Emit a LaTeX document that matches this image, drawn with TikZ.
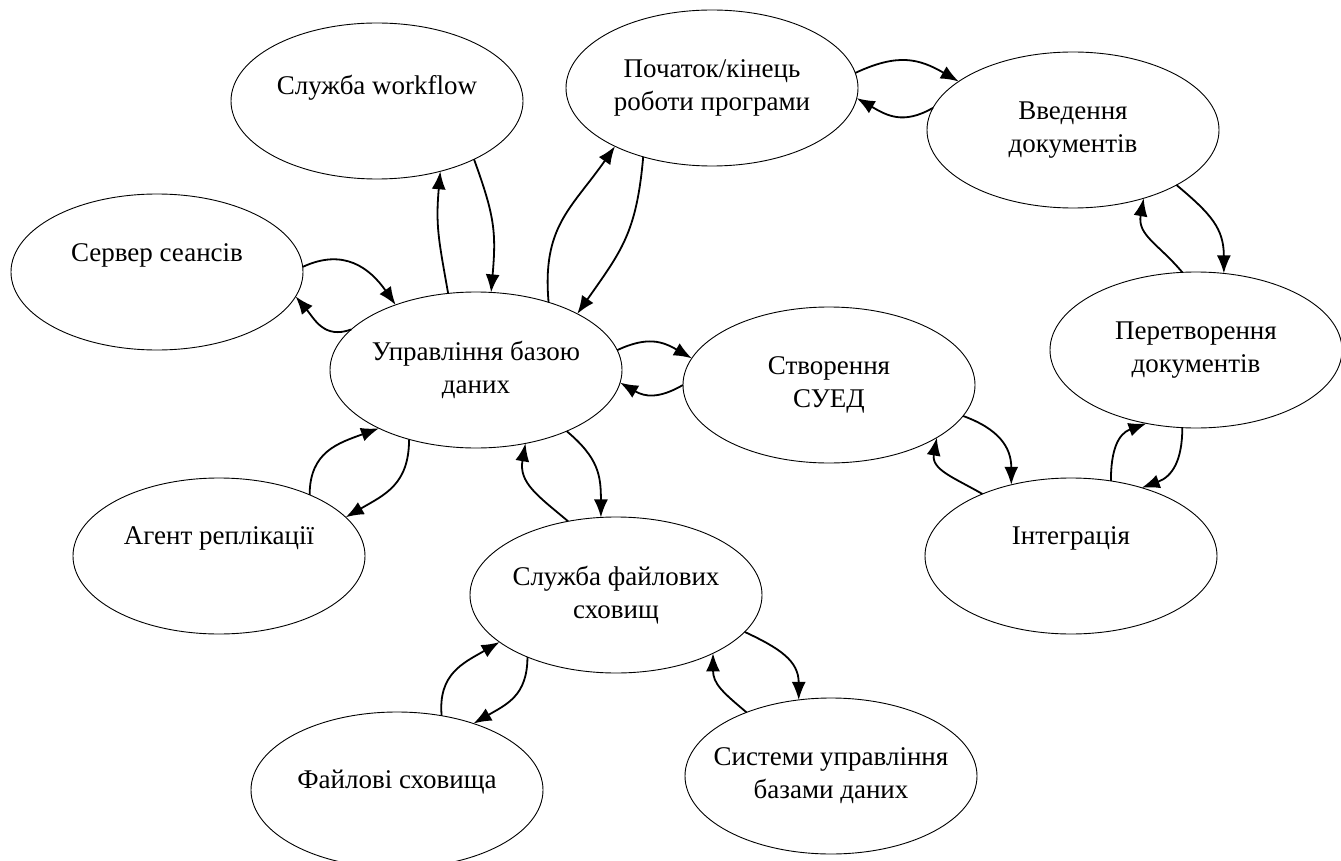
\documentclass[tikz,border=0pt]{standalone}
\usepackage{fontspec}
\setmainfont{Liberation Serif}
\usetikzlibrary{shapes.geometric,arrows.meta}
\begin{document}
\begin{tikzpicture}[x=1pt,y=1pt,
  blob/.style={ellipse, draw, line width=0.9pt, minimum width=292pt,
    minimum height=156pt, inner sep=0pt, outer sep=0pt},
  lbl/.style={align=center, inner sep=0pt, font=\fontsize{27}{33}\selectfont},
  link/.style={line width=1.8pt, looseness=1.15,
    -{Latex[length=18pt,width=14pt]}}]
\useasboundingbox (0,0) rectangle (1341,-861);

% ellipses
\node[blob] (wf)  at (377,-101) {};
\node[blob] (pk)  at (712,-88)  {};
\node[blob] (vd)  at (1073,-130) {};
\node[blob] (ss)  at (157,-272) {};
\node[blob] (upr) at (476,-370) {};
\node[blob] (stv) at (829,-385) {};
\node[blob] (prt) at (1196,-350) {};
\node[blob] (int) at (1071,-556) {};
\node[blob] (ag)  at (219,-556) {};
\node[blob] (sfs) at (616,-595) {};
\node[blob] (fs)  at (397,-790) {};
\node[blob] (sub) at (831,-776) {};

% labels
\node[lbl] (wf-t)  at (wf)  [yshift=13pt] {Служба workflow};
\node[lbl] (pk-t)  at (pk)  {Початок/кінець\\роботи програми};
\node[lbl] (vd-t)  at (vd)  {Введення\\документів};
\node[lbl] (ss-t)  at (ss)  [yshift=17pt] {Сервер сеансів};
\node[lbl] (upr-t) at (upr) {Управління базою\\даних};
\node[lbl] (stv-t) at (stv) {Створення\\СУЕД};
\node[lbl] (prt-t) at (prt) {Перетворення\\документів};
\node[lbl] (int-t) at (int) [yshift=18pt] {Інтеграція};
\node[lbl] (ag-t)  at (ag)  [yshift=18pt] {Агент реплікації};
\node[lbl] (sfs-t) at (sfs) {Служба файлових\\сховищ};
\node[lbl] (fs-t)  at (fs)  [yshift=8pt] {Файлові сховища};
\node[lbl] (sub-t) at (sub) {Системи управління\\базами даних};

% paired connectors
\draw[link] (ss.2)    to[out=25,in=125]   (upr.141);
\draw[link] (upr.162) to[out=200,in=-50]  (ss.-10);

\draw[link] (upr.110) to[out=100,in=-95]  (wf.-48);
\draw[link] (wf.-31)  to[out=-70,in=85]   (upr.79);

\draw[link] (upr.43)  to[out=95,in=-125]  (pk.211);
\draw[link] (pk.-135) to[out=-95,in=55]   (upr.29);

\draw[link] (pk.6)    to[out=25,in=150]   (vd.157);
\draw[link] (vd.171)  to[out=210,in=-30]  (pk.-4);

\draw[link] (prt.100) to[out=130,in=-100] (vd.-44);
\draw[link] (vd.-28)  to[out=-40,in=90]   (prt.70);

\draw[link] (int.62)  to[out=90,in=200]   (prt.-124);
\draw[link] (prt.-100) to[out=-90,in=20]  (int.44);

\draw[link] (int.145) to[out=150,in=-100] (stv.-26);
\draw[link] (stv.-13) to[out=-20,in=90]   (int.130);

\draw[link] (upr.8)   to[out=25,in=150]   (stv.169);
\draw[link] (stv.180) to[out=210,in=-30]  (upr.-5);

\draw[link] (ag.34)   to[out=90,in=200]   (upr.211);
\draw[link] (upr.-134) to[out=-90,in=30]  (ag.17);

\draw[link] (sfs.123) to[out=140,in=-100] (upr.-56);
\draw[link] (upr.-34) to[out=-40,in=90]   (sfs.101);

\draw[link] (fs.59)   to[out=95,in=210]   (sfs.-158);
\draw[link] (sfs.-145) to[out=-90,in=30]  (fs.41);

\draw[link] (sub.143) to[out=140,in=-90]  (sfs.-31);
\draw[link] (sfs.-16) to[out=-25,in=90]   (sub.113);
\end{tikzpicture}
\end{document}
